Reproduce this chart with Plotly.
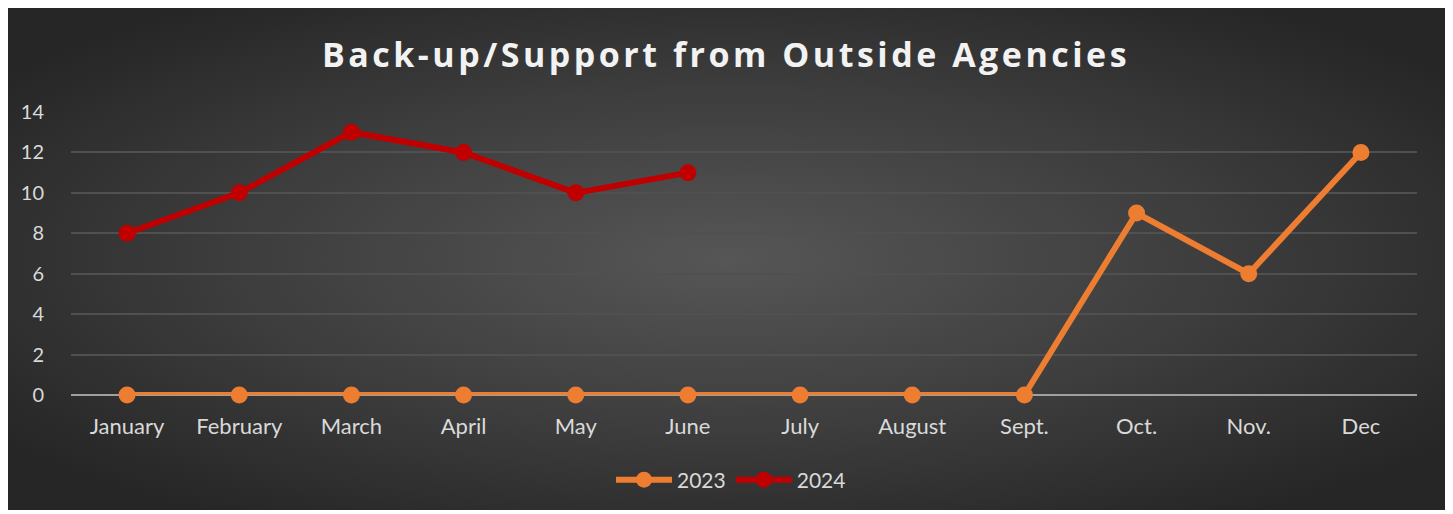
import base64
import plotly.graph_objects as go

months = ["January", "February", "March", "April", "May", "June", "July",
          "August", "Sept.", "Oct.", "Nov.", "Dec"]
values_2023 = [0, 0, 0, 0, 0, 0, 0, 0, 0, 9, 6, 12]
values_2024 = [8, 10, 13, 12, 10, 11]
y_ticks = [0, 2, 4, 6, 8, 10, 12, 14]

# page body adds an 8px offset; figure coordinates below are screen - 8
W, H = 1445, 506
L, R, T, B = 63, 36, 104, 119
pw, ph = W - L - R, H - T - B

svg = '''<svg xmlns="http://www.w3.org/2000/svg" width="1440" height="504" viewBox="0 0 1440 504">
<defs><radialGradient id="g" cx="0.5" cy="0.5" r="0.62" gradientUnits="objectBoundingBox">
<stop offset="0" stop-color="#565656"/><stop offset="0.55" stop-color="#3d3d3d"/><stop offset="1" stop-color="#262626"/>
</radialGradient></defs><rect width="1440" height="504" fill="url(#g)"/></svg>'''
src = "data:image/svg+xml;base64," + base64.b64encode(svg.encode()).decode()

bx0, bx1, by0, by1 = 0, 1439, 0, 502

fig = go.Figure()
fig.add_trace(go.Scatter(x=months, y=values_2023, name="2023", mode="lines+markers",
                         line=dict(color="#ED7D31", width=6),
                         marker=dict(size=17, color="#ED7D31"), cliponaxis=False))
fig.add_trace(go.Scatter(x=months[:len(values_2024)], y=values_2024, name="2024",
                         mode="lines+markers",
                         line=dict(color="#C00000", width=6),
                         marker=dict(size=17, color="#C00000"), cliponaxis=False))

fig.update_layout(
    width=W, height=H,
    margin=dict(l=L, r=R, t=T, b=B),
    paper_bgcolor="white",
    plot_bgcolor="rgba(0,0,0,0)",
    images=[dict(source=src, xref="paper", yref="paper",
                 x=(bx0 - L) / pw, y=(H - B - by0) / ph,
                 sizex=(bx1 - bx0) / pw, sizey=(by1 - by0) / ph,
                 xanchor="left", yanchor="top", sizing="stretch", layer="below")],
    title=dict(text="<b>Back-up/Support from Outside Agencies</b>",
               x=0.5 - 18 / pw, xref="paper", xanchor="center",
               y=1 - 47 / H, yanchor="middle",
               font=dict(family="Open Sans", size=34, color="#F2F2F2")),
    font=dict(family="Lato", color="#D9D9D9"),
    showlegend=True,
    legend=dict(orientation="h", x=0.5 - 13 / pw, xanchor="center",
                y=(H - B - 472) / ph, yanchor="middle",
                itemwidth=56,
                font=dict(family="Lato", size=21, color="#D9D9D9"),
                bgcolor="rgba(0,0,0,0)"),
    xaxis=dict(type="category", range=[-0.5, 11.5], showgrid=False,
               showline=False, zeroline=False,
               ticks="outside", ticklen=12, tickcolor="rgba(0,0,0,0)",
               tickfont=dict(family="Lato", size=22, color="#D9D9D9")),
    yaxis=dict(range=[0, 14], tickvals=y_ticks, showgrid=True,
               gridcolor="#505050", gridwidth=1.5,
               zeroline=True, zerolinecolor="#a0a0a0", zerolinewidth=2,
               showline=False,
               ticks="outside", ticklen=22, tickcolor="rgba(0,0,0,0)",
               tickfont=dict(family="Lato", size=20, color="#D9D9D9")),
)

fig.write_html("out.html",
               post_script="document.querySelectorAll('.gtitle').forEach(function(e){e.style.letterSpacing='3.5px';});")
